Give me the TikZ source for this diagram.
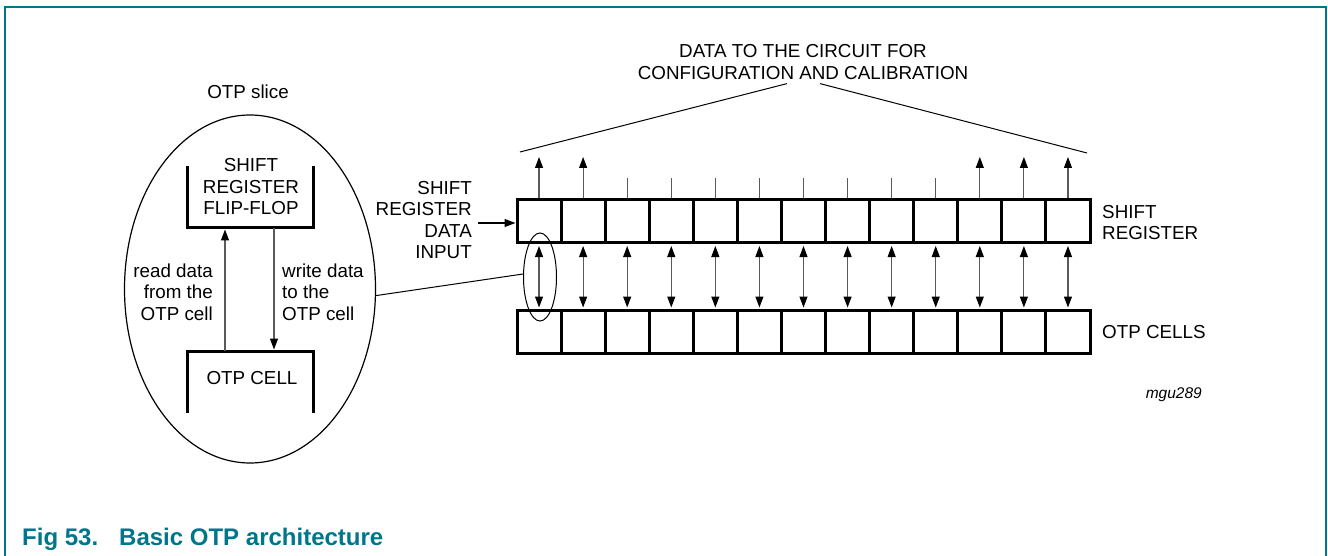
\documentclass[tikz,border=0pt]{standalone}
\usepackage{fontspec}
\setmainfont{Liberation Sans}
\usetikzlibrary{arrows.meta,shapes.geometric,calc}
\definecolor{nxpteal}{RGB}{0,118,139}
\definecolor{shaft}{RGB}{90,90,90}
\tikzset{
  txt/.style={font=\fontsize{18.8}{21.5}\selectfont, inner sep=0pt, align=center},
  cell/.style={draw, line width=3pt, minimum width=44.08pt, minimum height=43pt, inner sep=0pt, outer sep=0pt},
  ubox/.style={minimum width=126pt, minimum height=62pt, inner sep=0pt, outer sep=0pt},
  uline/.style={line width=3pt},
  tip/.style={-{Triangle[length=11pt,width=8pt,color=black]}},
  uparrow/.style={shaft, line width=1.1pt, tip},
  tick/.style={shaft, line width=1.1pt},
  dbl/.style={shaft, line width=1.1pt, {Triangle[length=11pt,width=8pt,color=black]}-{Triangle[length=11pt,width=8pt,color=black]}, shorten <=3pt, shorten >=3pt},
  thin/.style={line width=1pt},
}
\begin{document}
\begin{tikzpicture}[x=1pt,y=-1pt]
\useasboundingbox (0,0) rectangle (1328,556);
% frame
\draw[nxpteal, line width=2pt] (5,558) -- (5,7) -- (1326,7) -- (1326,558);
% caption
\node[anchor=base west, inner sep=0pt, text=nxpteal, font=\fontsize{24}{26}\selectfont\bfseries] (cap) at (22,545) {Fig 53.\hspace{21pt}Basic OTP architecture};

% ---- OTP slice ellipse
\node[txt] (slice) at (248,92) {OTP slice};
\node[draw, ellipse, line width=1.2pt, minimum width=251pt, minimum height=348pt, inner sep=0pt] (big) at (250,289) {};
\node[ubox] (ff) at (250,197) {};
\draw[uline] (ff.north west) -- (ff.south west) -- (ff.south east) -- (ff.north east);
\node[txt] (fft) at (251,187) {SHIFT\\REGISTER\\FLIP-FLOP};
\node[ubox] (oc) at (250,382) {};
\draw[uline] (oc.south west) -- (oc.north west) -- (oc.north east) -- (oc.south east);
\node[txt] (oct) at (252,378) {OTP CELL};
\draw[uparrow] ([xshift=38pt]oc.north west) -- ([xshift=38pt,yshift=-1.5pt]ff.south west);
\draw[uparrow] ([xshift=87pt]ff.south west) -- ([xshift=87pt,yshift=1.5pt]oc.north west);
\node[txt, anchor=east, align=right] (rd) at (213,292) {read data\\from the\\OTP cell};
\node[txt, anchor=west, align=left] (wr) at (282,292) {write data\\to the\\OTP cell};

% ---- register rows
\foreach \i in {1,...,13} {
  \pgfmathsetmacro\cx{517+44.077*(\i-0.5)}
  \node[cell] (s\i) at (\cx,221.5) {};
  \node[cell] (o\i) at (\cx,332) {};
  \draw[dbl] (s\i.south) -- (o\i.north);
}
\foreach \i in {1,2,11,12,13} {
  \coordinate (t\i) at ([yshift=43pt]s\i.north);
  \draw[uparrow] ([yshift=1.5pt]s\i.north) -- (t\i);
}
\foreach \i in {3,...,10} {
  \coordinate (t\i) at ([yshift=22pt]s\i.north);
  \draw[tick] ([yshift=1.5pt]s\i.north) -- (t\i);
}
% small ellipse and zoom line
\node[draw, ellipse, line width=1pt, minimum width=33pt, minimum height=88pt, inner sep=0pt] (small) at (540,277) {};
\draw[thin] (big.-3) -- (small.170);

% input
\node[txt, anchor=east, align=right] (inp) at (472,220) {SHIFT\\REGISTER\\DATA\\INPUT};
\coordinate (inst) at (478,223);
\draw[line width=1.1pt, tip] (inst) -- ([xshift=-1.5pt]s1.west |- inst);

% labels right
\node[txt, anchor=west, align=left] (srl) at (1102,222.5) {SHIFT\\REGISTER};
\node[txt, anchor=west] (ocl) at (1102,332) {OTP CELLS};
\node[anchor=east, inner sep=0pt, font=\fontsize{15.5}{18}\selectfont\itshape] (mgu) at (1202,395) {mgu289};

% title
\node[txt] (title) at (803,62) {DATA TO THE CIRCUIT FOR\\CONFIGURATION AND CALIBRATION};
\coordinate (ll) at (520,152);
\coordinate (rl) at (1087,153);
\draw[thin] (ll) -- ([xshift=-16pt,yshift=-4pt]title.south);
\draw[thin] ([xshift=17pt,yshift=-4pt]title.south) -- (rl);
\end{tikzpicture}
\end{document}
